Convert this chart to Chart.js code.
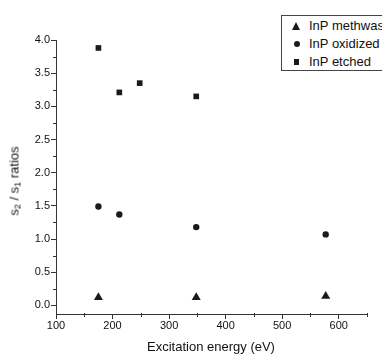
<!DOCTYPE html>
<html>
<head>
<meta charset="utf-8">
<script src="https://cdn.jsdelivr.net/npm/chart.js@4"></script>
<style>
  html, body { margin: 0; padding: 0; background: #fff; overflow: hidden; }
  #wrap { position: relative; width: 382px; height: 354px; overflow: hidden; }
  canvas { position: absolute; left: 0; top: 0; }
  .txt { position: absolute; font-family: 'Liberation Sans Narrow', 'Arial Narrow', 'Liberation Sans', Arial, sans-serif; color: #111; white-space: nowrap; }
  #ytitle { font-size: 13px; left: 14px; top: 181px; transform: translate(-50%, -50%) rotate(-90deg); }
  #ytitle sub { font-size: 9px; vertical-align: -2px; line-height: 0; }
  #xtitle { font-size: 13px; left: 211px; top: 346px; transform: translate(-50%, -50%); }
  #legend { position: absolute; left: 281px; top: 15px; width: 120px; height: 54px; border: 1px solid #444; background: #fff; }
  .row { position: absolute; left: 0; height: 16px; }
  .row .lbl { position: absolute; left: 27px; top: 0; font-size: 13px; line-height: 16px; }
  .mk { position: absolute; }
  .tri { width: 0; height: 0; border-left: 4.5px solid transparent; border-right: 4.5px solid transparent; border-bottom: 8px solid #1a1a1a; left: 10px; top: 4px; }
  .cir { width: 6px; height: 6px; border-radius: 50%; background: #1a1a1a; left: 12px; top: 5px; }
  .sq { width: 5px; height: 6px; background: #1a1a1a; left: 12px; top: 5px; }
</style>
</head>
<body>
<div id="wrap">
  <canvas id="c" width="382" height="354"></canvas>
  <div id="ytitle" class="txt">s<sub>2</sub> / s<sub>1</sub> ratios</div>
  <div id="xtitle" class="txt">Excitation energy (eV)</div>
  <div id="legend">
    <div class="row" style="top:2px"><div class="mk tri"></div><div class="lbl txt">InP methwash</div></div>
    <div class="row" style="top:20px"><div class="mk cir"></div><div class="lbl txt">InP oxidized</div></div>
    <div class="row" style="top:38px"><div class="mk sq"></div><div class="lbl txt">InP etched</div></div>
  </div>
</div>
<script>
// ---- data ----
const seriesNames = ['InP methwash', 'InP oxidized', 'InP etched'];
const methwashX = [175, 348, 577];
const methwashY = [0.12, 0.12, 0.14];
const oxidizedX = [175, 212, 348, 577];
const oxidizedY = [1.49, 1.37, 1.18, 1.07];
const etchedX = [175, 212, 248, 348];
const etchedY = [3.88, 3.21, 3.35, 3.15];
const xTicks = [100, 200, 300, 400, 500, 600];
const xMinorTicks = [150, 250, 350, 450, 550, 650];
const yTicks = [0.0, 0.5, 1.0, 1.5, 2.0, 2.5, 3.0, 3.5, 4.0];
const yMinorTicks = [0.25, 0.75, 1.25, 1.75, 2.25, 2.75, 3.25, 3.75];

function pts(xs, ys) { return xs.map((x, i) => ({ x: x, y: ys[i] })); }

const axisColor = '#333';
const tickFont = { family: "'Liberation Sans Narrow', 'Arial Narrow', 'Liberation Sans', Arial, sans-serif", size: 11 };

const minorTicks = {
  id: 'minorTicks',
  afterDraw(chart) {
    const ctx = chart.ctx, xs = chart.scales.x, ys = chart.scales.y;
    const a = chart.chartArea;
    ctx.save();
    ctx.strokeStyle = axisColor;
    ctx.lineWidth = 1;
    ctx.beginPath();
    xMinorTicks.forEach(v => {
      const p = Math.round(xs.getPixelForValue(v)) + 0.5;
      ctx.moveTo(p, a.bottom - 1); ctx.lineTo(p, a.bottom + 3);
    });
    yMinorTicks.forEach(v => {
      const p = Math.round(ys.getPixelForValue(v)) + 0.5;
      ctx.moveTo(a.left + 1, p); ctx.lineTo(a.left - 3, p);
    });
    ctx.stroke();
    ctx.restore();
  }
};

new Chart(document.getElementById('c'), {
  type: 'scatter',
  data: {
    datasets: [
      { label: seriesNames[0], data: pts(methwashX, methwashY), pointStyle: 'triangle', radius: 5.2, backgroundColor: '#1a1a1a', borderColor: '#1a1a1a', borderWidth: 0 },
      { label: seriesNames[1], data: pts(oxidizedX, oxidizedY), pointStyle: 'circle', radius: 3.2, backgroundColor: '#1a1a1a', borderColor: '#1a1a1a', borderWidth: 0 },
      { label: seriesNames[2], data: pts(etchedX, etchedY), pointStyle: 'rect', radius: 4, backgroundColor: '#1a1a1a', borderColor: '#1a1a1a', borderWidth: 0 }
    ]
  },
  options: {
    responsive: false,
    animation: false,
    events: [],
    layout: { padding: { top: 40, right: 15, left: 0, bottom: 0 } },
    plugins: { legend: { display: false }, tooltip: { enabled: false } },
    scales: {
      x: {
        type: 'linear', min: 100, max: 650,
        afterBuildTicks(s) { s.ticks = xTicks.map(v => ({ value: v })); },
        afterFit(s) { s.height = 40; },
        grid: { display: true, drawOnChartArea: false, drawTicks: true, tickLength: 5, color: axisColor },
        border: { display: true, color: axisColor, width: 1 },
        ticks: { font: tickFont, color: '#111', padding: 0, maxRotation: 0, callback: v => String(v) }
      },
      y: {
        type: 'linear', min: -0.13, max: 4.0,
        afterBuildTicks(s) { s.ticks = yTicks.map(v => ({ value: v })); },
        afterFit(s) { s.width = 56; },
        grid: { display: true, drawOnChartArea: false, drawTicks: true, tickLength: 5, color: axisColor },
        border: { display: true, color: axisColor, width: 1 },
        ticks: { font: tickFont, color: '#111', padding: 1, callback: v => Number(v).toFixed(1) }
      }
    }
  },
  plugins: [minorTicks]
});
</script>
</body>
</html>
